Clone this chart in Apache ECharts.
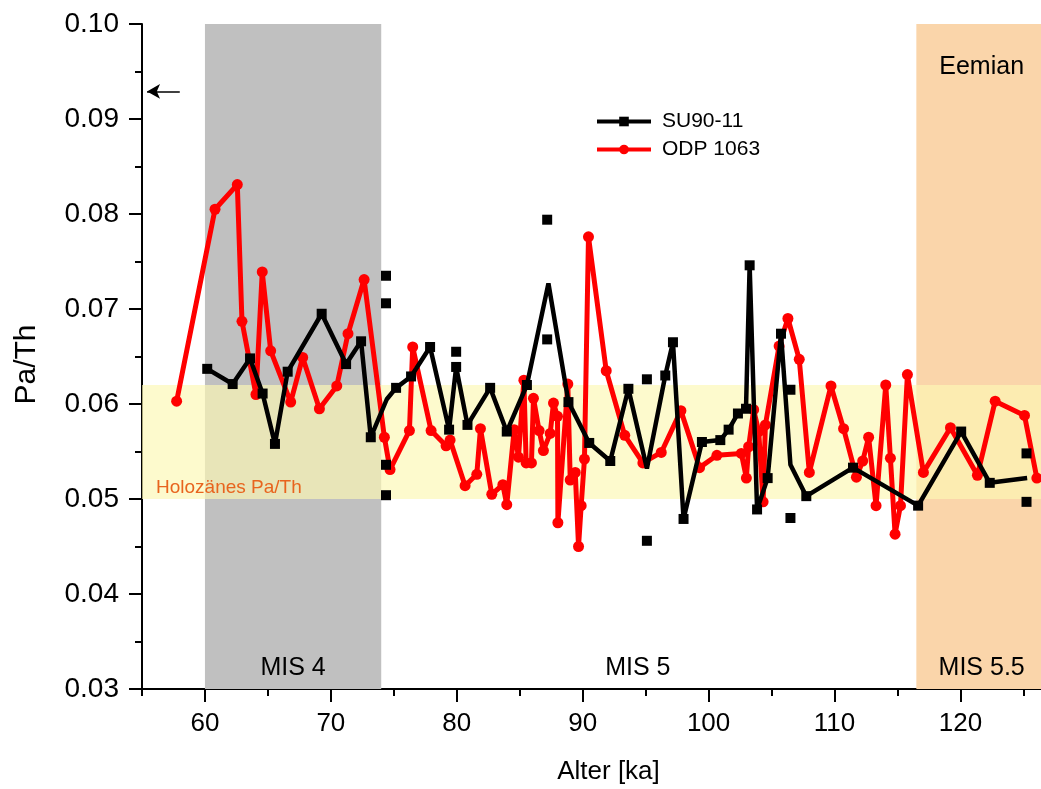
<!DOCTYPE html>
<html>
<head>
<meta charset="utf-8">
<script src="https://cdn.jsdelivr.net/npm/echarts@6/dist/echarts.min.js"></script>
<style>
html,body{margin:0;padding:0;background:#fff;}
#chart{width:1041px;height:789px;}
</style>
</head>
<body>
<div id="chart"></div>
<script>
// ---------- data ----------
const odpX = [57.75, 60.8, 62.57, 62.94, 64.05, 64.55, 65.22, 66.81, 67.76, 69.09, 70.47, 71.36, 72.64, 74.25, 74.7, 76.24, 76.5, 77.96, 79.15, 79.47, 80.66, 81.59, 81.88, 82.78, 83.66, 83.97, 84.56, 84.9, 85.33, 85.51, 85.93, 86.09, 86.54, 86.88, 87.42, 87.68, 88.0, 88.03, 88.82, 89.01, 89.41, 89.67, 89.88, 90.14, 90.46, 91.87, 93.34, 94.78, 96.24, 97.8, 99.28, 100.66, 102.6, 103.0, 103.18, 103.58, 103.98, 104.33, 104.51, 105.6, 106.3, 107.2, 108.0, 109.72, 110.72, 111.74, 112.24, 112.71, 113.3, 114.07, 114.44, 114.81, 115.24, 115.79, 117.06, 119.21, 121.35, 122.76, 125.09, 126.07];
const odpY = [0.0603, 0.0805, 0.0831, 0.0687, 0.0610, 0.0739, 0.0656, 0.0602, 0.0649, 0.0595, 0.0619, 0.0674, 0.0731, 0.0565, 0.0531, 0.0572, 0.0660, 0.0572, 0.0556, 0.0562, 0.0514, 0.0526, 0.0574, 0.0505, 0.0515, 0.0494, 0.0573, 0.0544, 0.0625, 0.0538, 0.0538, 0.0606, 0.0572, 0.0551, 0.0569, 0.0601, 0.0587, 0.0475, 0.0621, 0.0520, 0.0528, 0.0450, 0.0493, 0.0542, 0.0776, 0.0635, 0.0567, 0.0538, 0.0549, 0.0593, 0.0533, 0.0546, 0.0548, 0.0522, 0.0555, 0.0594, 0.0571, 0.0497, 0.0578, 0.0661, 0.0690, 0.0647, 0.0528, 0.0619, 0.0574, 0.0523, 0.0540, 0.0565, 0.0493, 0.0620, 0.0543, 0.0463, 0.0493, 0.0631, 0.0528, 0.0575, 0.0525, 0.0603, 0.0588, 0.0522];

const suX = [60.18, 62.2, 63.58, 64.58, 65.56, 66.57, 69.27, 71.21, 72.4, 73.17, 74.44, 75.18, 76.37, 77.88, 79.39, 79.95, 80.85, 82.65, 83.97, 85.57, 87.28, 88.87, 90.52, 92.19, 93.63, 95.1, 96.56, 97.17, 98.01, 99.47, 100.93, 101.59, 102.33, 102.97, 103.26, 103.85, 104.69, 105.75, 106.5, 107.76, 111.47, 116.64, 120.06, 122.33, 125.3];
const suY = [0.0637, 0.0621, 0.0648, 0.0611, 0.0558, 0.0634, 0.0695, 0.0642, 0.0666, 0.0565, 0.0605, 0.0617, 0.0629, 0.0660, 0.0573, 0.0639, 0.0578, 0.0617, 0.0571, 0.0620, 0.0727, 0.0602, 0.0559, 0.0540, 0.0616, 0.0532, 0.0630, 0.0665, 0.0479, 0.0560, 0.0562, 0.0573, 0.0590, 0.0595, 0.0746, 0.0489, 0.0522, 0.0674, 0.0536, 0.0503, 0.0533, 0.0493, 0.0571, 0.0517, 0.0522];
// SU90-11 line vertices that are averages of replicate samples (no own marker)
const suMeanAt = [74.44, 87.28, 95.1, 106.5, 125.3];

// SU90-11 replicate samples off the line
const suRepX = [74.38, 74.38, 74.38, 74.38, 79.95, 87.18, 87.18, 95.1, 95.1, 106.5, 106.5, 125.25, 125.25];
const suRepY = [0.0735, 0.0706, 0.0536, 0.0504, 0.0655, 0.0794, 0.0668, 0.0626, 0.0456, 0.0615, 0.0480, 0.0548, 0.0497];

const xMajorTicks = [60, 70, 80, 90, 100, 110, 120];
const xMinorTicks = [55, 65, 75, 85, 95, 105, 115, 125];

const mis4 = [60, 74];
const eemian = [116.5, 126.4];
const holocene = [0.050, 0.062];
const arrowY = 0.0929;

// ---------- chart ----------
const FONT = 'Liberation Sans, Arial, sans-serif';
const X_MIN = 55, X_MAX = 126.4;

const odpData = odpX.map((x, i) => [x, odpY[i]]);
const suData = suX.map((x, i) => suMeanAt.includes(x) ? {value: [x, suY[i]], symbol: 'none'} : [x, suY[i]]);
const repData = suRepX.map((x, i) => [x, suRepY[i]]);

const chart = echarts.init(document.getElementById('chart'), null, {renderer: 'canvas'});

const axisBase = {
  type: 'value', min: X_MIN, max: X_MAX, gridIndex: 0, position: 'bottom',
  splitLine: {show: false}
};

chart.setOption({
  animation: false,
  backgroundColor: '#fff',
  grid: {left: 142, right: 0, top: 24, bottom: 100, containLabel: false, outerBoundsMode: 'none'},
  legend: {
    data: ['SU90-11', 'ODP 1063'],
    orient: 'vertical',
    left: 590, top: 106,
    itemWidth: 54, itemHeight: 12, itemGap: 7,
    lineStyle: {width: 4},
    textStyle: {fontSize: 21, fontFamily: FONT, color: '#000', padding: [0, 0, 0, 6]}
  },
  xAxis: [
    Object.assign({}, axisBase, {
      name: 'Alter [ka]', nameLocation: 'middle', nameGap: 70,
      nameTextStyle: {fontSize: 26, fontFamily: FONT, color: '#000', padding: [0, 0, 0, 34]},
      axisLine: {show: true, onZero: false, lineStyle: {color: '#000', width: 2}},
      axisTick: {show: true, inside: false, length: 13, lineStyle: {color: '#000', width: 2}, customValues: xMajorTicks},
      axisLabel: {show: true, margin: 22, fontSize: 26, fontFamily: FONT, color: '#000', customValues: xMajorTicks,
        formatter: v => String(Math.round(v))}
    }),
    Object.assign({}, axisBase, {
      axisLine: {show: false, onZero: false},
      axisTick: {show: true, length: 7, lineStyle: {color: '#000', width: 2}, customValues: xMinorTicks},
      axisLabel: {show: false}
    })
  ],
  yAxis: {
    type: 'value', min: 0.03, max: 0.10, interval: 0.01,
    name: 'Pa/Th', nameLocation: 'middle', nameGap: 100,
    nameTextStyle: {fontSize: 30, fontFamily: FONT, color: '#000', padding: [0, 16, 0, 0]},
    axisLine: {show: true, onZero: false, lineStyle: {color: '#000', width: 2}},
    axisTick: {show: true, length: 13, lineStyle: {color: '#000', width: 2}},
    minorTick: {show: true, splitNumber: 2, length: 7, lineStyle: {color: '#000', width: 2}},
    axisLabel: {margin: 23, fontSize: 28, fontFamily: FONT, color: '#000', formatter: v => v.toFixed(2)},
    splitLine: {show: false}, minorSplitLine: {show: false}
  },
  series: [
    {
      name: 'bands', type: 'line', data: [], z: 0, silent: true,
      markArea: {
        silent: true,
        data: [
          [{xAxis: mis4[0], itemStyle: {color: '#c0c0c0'},
            label: {show: true, position: 'insideBottom', distance: 8, formatter: 'MIS 4', fontSize: 25, fontFamily: FONT, color: '#000'}},
           {xAxis: mis4[1]}],
          [{xAxis: eemian[0], itemStyle: {color: '#fad5aa'},
            label: {show: true, position: 'insideTop', distance: 31, offset: [3, 0], formatter: 'Eemian', fontSize: 25, fontFamily: FONT, color: '#000'}},
           {xAxis: eemian[1]}],
          [{yAxis: holocene[0], itemStyle: {color: 'rgba(252,247,180,0.67)'},
            label: {show: true, position: 'insideBottomLeft', distance: 2, offset: [12, 0], formatter: 'Holozänes Pa/Th', fontSize: 19, fontFamily: FONT, color: '#e8641e'}},
           {yAxis: holocene[1]}],
          [{xAxis: mis4[1], itemStyle: {color: 'rgba(0,0,0,0)'},
            label: {show: true, position: 'insideBottom', distance: 8, offset: [-11, 0], formatter: 'MIS 5', fontSize: 25, fontFamily: FONT, color: '#000'}},
           {xAxis: eemian[0]}],
          [{xAxis: eemian[0], itemStyle: {color: 'rgba(0,0,0,0)'},
            label: {show: true, position: 'insideBottom', distance: 8, offset: [3, 0], formatter: 'MIS 5.5', fontSize: 25, fontFamily: FONT, color: '#000'}},
           {xAxis: eemian[1]}]
        ]
      }
    },
    {
      name: 'ODP 1063', type: 'line', data: odpData, z: 3,
      color: '#ff0000',
      lineStyle: {color: '#ff0000', width: 5},
      itemStyle: {color: '#ff0000'},
      symbol: 'circle', symbolSize: 11, showAllSymbol: true
    },
    {
      name: 'SU90-11', type: 'line', data: suData, z: 4,
      color: '#000',
      lineStyle: {color: '#000', width: 4.5},
      itemStyle: {color: '#000'},
      symbol: 'rect', symbolSize: 10, showAllSymbol: true
    },
    {
      name: 'SU90-11 replicates', type: 'scatter', data: repData, z: 4,
      symbol: 'rect', symbolSize: 10, itemStyle: {color: '#000', opacity: 1},
      markLine: {
        silent: true, symbol: ['none', 'arrow'], symbolSize: [11, 13],
        lineStyle: {color: '#000', width: 1.5, type: 'solid'},
        label: {show: false},
        data: [[{coord: [58.0, arrowY]}, {coord: [55.4, arrowY]}]]
      }
    }
  ]
});
</script>
</body>
</html>
